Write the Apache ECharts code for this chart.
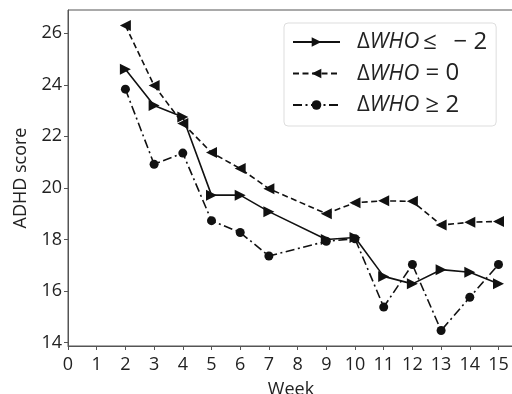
<!DOCTYPE html>
<html>
<head>
<meta charset="utf-8">
<script src="https://cdn.jsdelivr.net/npm/echarts@6/dist/echarts.min.js"></script>
<style>
    html, body {margin: 0; padding: 0; background: #fff;}
    #main {width: 512px; height: 394px;}
</style>
</head>
<body>
<div id="main"></div>
<script>
    const weeks = [2, 3, 4, 5, 6, 7, 9, 10, 11, 12, 13, 14, 15];
    const lowWho = [24.6, 23.2, 22.75, 19.72, 19.72, 19.08, 18.0, 18.08, 16.57, 16.28, 16.83, 16.73, 16.28];
    const zeroWho = [26.3, 23.97, 22.5, 21.37, 20.75, 19.97, 19.0, 19.43, 19.5, 19.48, 18.56, 18.67, 18.7];
    const highWho = [23.83, 20.92, 21.35, 18.73, 18.27, 17.36, 17.93, 18.03, 15.38, 17.03, 14.47, 15.76, 17.03];
    const xTicks = [0, 1, 2, 3, 4, 5, 6, 7, 8, 9, 10, 11, 12, 13, 14, 15];
    const yTicks = [14, 16, 18, 20, 22, 24, 26];
    const names = ['ΔWHO ≤ −2', 'ΔWHO = 0', 'ΔWHO ≥ 2'];
    const nameTails = ['\u2009≤  \u2009− 2', ' = 0', ' ≥ 2'];

    const font = '"Open Sans", "Noto Sans", sans-serif';
    const ink = '#111';
    const axisGray = '#555';

    const pairs = vals => weeks.map((w, i) => [w, vals[i]]);

    const chart = echarts.init(document.getElementById('main'));
    chart.setOption({
        animation: false,
        grid: {
            left: 68, right: -2, top: 10, bottom: 48,
            outerBoundsMode: 'none',
            containLabel: false,
            show: true, borderColor: axisGray, borderWidth: 1
        },
        xAxis: {
            type: 'value',
            min: 0,
            max: 15.54,
            name: 'Week',
            nameLocation: 'middle',
            nameGap: 35,
            nameTextStyle: {fontFamily: font, fontSize: 18, color: '#222'},
            axisLine: {lineStyle: {color: axisGray}},
            axisTick: {show: true, length: 4, customValues: xTicks, lineStyle: {color: axisGray}},
            axisLabel: {customValues: xTicks, fontFamily: font, fontSize: 18, color: '#222', margin: 10},
            splitLine: {show: false}
        },
        yAxis: {
            type: 'value',
            min: 13.87,
            max: 26.9,
            name: 'ADHD score',
            nameLocation: 'middle',
            nameGap: 38,
            nameTextStyle: {fontFamily: font, fontSize: 18, color: '#222'},
            axisLine: {show: true, lineStyle: {color: axisGray}},
            axisTick: {show: true, length: 4, customValues: yTicks, lineStyle: {color: axisGray}},
            axisLabel: {customValues: yTicks, fontFamily: font, fontSize: 18, color: '#222', margin: 6},
            splitLine: {show: false}
        },
        legend: {
            left: 284,
            top: 23,
            orient: 'vertical',
            itemWidth: 47,
            itemHeight: 12,
            itemGap: 7.5,
            padding: [7, 9, 9, 8],
            borderColor: '#ddd',
            borderWidth: 1,
            borderRadius: 4,
            backgroundColor: '#fff',
            data: names,
            formatter(name) {
                const i = names.indexOf(name);
                return '{d|Δ}{i|WHO}{t|' + nameTails[i] + '}';
            },
            textStyle: {
                color: '#222',
                padding: [0, 0, 0, 12],
                rich: {
                    d: {fontFamily: font, fontSize: 22, color: '#222', lineHeight: 24},
                    i: {fontFamily: font, fontSize: 22, fontStyle: 'italic', color: '#222', lineHeight: 24},
                    t: {fontFamily: font, fontSize: 24, color: '#222', lineHeight: 24}
                }
            }
        },
        series: [
            {
                name: names[0],
                type: 'line',
                data: pairs(lowWho),
                symbol: 'triangle',
                symbolSize: 11,
                symbolRotate: -90,
                lineStyle: {color: ink, width: 1.6, type: 'solid'},
                itemStyle: {color: ink}
            },
            {
                name: names[1],
                type: 'line',
                data: pairs(zeroWho),
                symbol: 'triangle',
                symbolSize: 11,
                symbolRotate: 90,
                lineStyle: {color: ink, width: 1.6, type: [6, 3.5]},
                itemStyle: {color: ink}
            },
            {
                name: names[2],
                type: 'line',
                data: pairs(highWho),
                symbol: 'circle',
                symbolSize: 9,
                lineStyle: {color: ink, width: 1.6, type: [9, 3.5, 2, 3.5]},
                itemStyle: {color: ink}
            }
        ]
    });
</script>
</body>
</html>
